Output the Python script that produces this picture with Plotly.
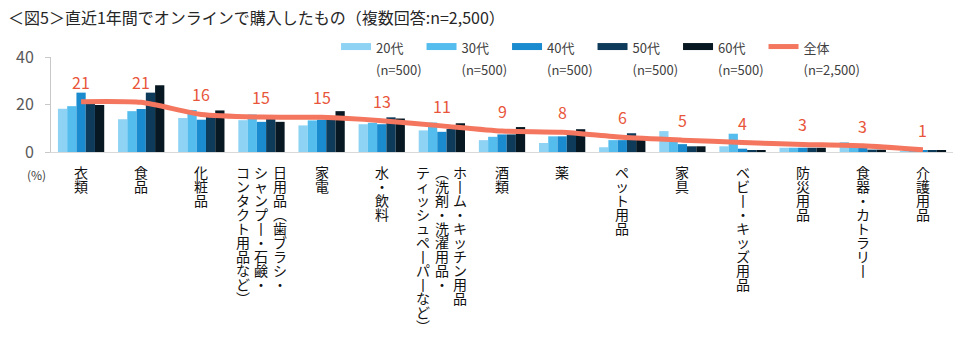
import plotly.graph_objects as go

# ---------------- data ----------------
categories = ["衣類", "食品", "化粧品", "日用品", "家電", "水・飲料", "ホーム・キッチン用品",
              "酒類", "薬", "ペット用品", "家具", "ベビー・キッズ用品", "防災用品",
              "食器・カトラリー", "介護用品"]

# tick label columns (vertical writing, first column is the rightmost)
label_columns = [
    ["衣類"], ["食品"], ["化粧品"],
    ["日用品（歯ブラシ・", "シャンプー・石鹸・", "コンタクト用品など）"],
    ["家電"], ["水・飲料"],
    ["ホーム・キッチン用品", "（洗剤・洗濯用品・", "ティッシュペーパーなど）"],
    ["酒類"], ["薬"], ["ペット用品"], ["家具"], ["ベビー・キッズ用品"],
    ["防災用品"], ["食器・カトラリー"], ["介護用品"],
]

series_names = ["20代", "30代", "40代", "50代", "60代"]
series_n = ["(n=500)", "(n=500)", "(n=500)", "(n=500)", "(n=500)"]
v20 = [18.2, 13.8, 14.3, 13.4, 11.2, 11.7, 9.1, 5.0, 3.8, 2.0, 8.8, 2.4, 1.8, 4.2, 0.4]
v30 = [19.3, 17.2, 17.7, 15.8, 13.3, 12.3, 12.4, 6.4, 6.6, 5.0, 5.7, 7.7, 1.8, 2.2, 0.4]
v40 = [25.0, 18.1, 13.6, 12.7, 13.6, 11.7, 8.5, 7.4, 6.6, 5.0, 3.3, 1.4, 1.8, 2.0, 0.5]
v50 = [20.8, 25.0, 15.0, 15.5, 14.8, 14.6, 9.7, 7.4, 8.2, 7.9, 2.4, 0.6, 1.8, 1.0, 0.6]
v60 = [19.8, 28.1, 17.5, 12.7, 17.2, 14.1, 12.1, 10.5, 9.6, 6.6, 2.4, 0.6, 1.8, 1.0, 0.7]
total_name = "全体"
total_n = "(n=2,500)"
total = [21.2, 20.9, 15.8, 14.7, 14.6, 13.2, 11.0, 8.8, 8.3, 6.2, 5.0, 4.0, 3.2, 2.6, 0.9]

y_ticks = [0, 20, 40]
title_text = "＜図5＞直近1年間でオンラインで購入したもの（複数回答:n=2,500）"
unit_text = "(%)"

# ---------------- styles ----------------
colors = ["#8fd3f4", "#55bdee", "#1b8bcf", "#0e3b5a", "#071822"]
line_color = "#f4765f"
label_color = "#e8553a"
FONT = "Noto Sans CJK JP, Noto Sans, sans-serif"

fig = go.Figure()
series = [v20, v30, v40, v50, v60]
for name, vals, c in zip(series_names, series, colors):
    fig.add_trace(go.Bar(x=categories, y=vals, name=name, marker=dict(color=c, line=dict(width=0)),
                         showlegend=False, hoverinfo="skip"))

# legend-only swatches
for name, n, c in zip(series_names, series_n, colors):
    fig.add_trace(go.Scatter(x=[None], y=[None], mode="lines", line=dict(color=c, width=7),
                             name=f'<span style="font-size:13px">{name}<br>{n}</span>'))

fig.add_trace(go.Scatter(x=categories, y=total, mode="lines",
                         line=dict(color=line_color, width=5, shape="spline", smoothing=0.6),
                         name=f'<span style="font-size:13px">{total_name}<br>{total_n}</span>',
                         legendwidth=75, hoverinfo="skip"))

annotations = []
for cat, v in zip(categories, total):
    annotations.append(dict(x=cat, y=v, xref="x", yref="y", text=f"{v:.0f}", showarrow=False,
                            yshift=20, font=dict(size=16, color=label_color, family=FONT)))

vert_map = {"ー": "丨", "（": "︵", "）": "︶"}
col_gap = 18.5
for cat, cols in zip(categories, label_columns):
    ncol = len(cols)
    for j, col in enumerate(cols):
        chars = [vert_map.get(ch, ch) for ch in col]
        txt = "<br>".join(f'<span style="font-size:14px">{ch}</span>' for ch in chars)
        annotations.append(dict(x=cat, y=0, xref="x", yref="paper", text=txt, showarrow=False,
                                xanchor="center", yanchor="top", yshift=-8,
                                xshift=((ncol - 1) / 2 - j) * col_gap,
                                font=dict(size=10.8, color="#111111", family=FONT)))

annotations.append(dict(x=-0.0166, y=0, xref="paper", yref="paper", text=unit_text, showarrow=False,
                        xanchor="center", yanchor="top", yshift=-12,
                        font=dict(size=12, color="#404040", family=FONT)))

fig.update_layout(
    width=960, height=340, autosize=False,
    margin=dict(l=51, r=7, t=57, b=188, pad=0, autoexpand=False),
    paper_bgcolor="white", plot_bgcolor="white",
    barmode="group", bargap=0.23, bargroupgap=0,
    font=dict(family=FONT, color="#404040"),
    title=dict(text=title_text, x=8 / 960, xref="container", xanchor="left",
               y=1 - 18 / 340, yref="container", yanchor="middle",
               font=dict(size=16, color="#262626", family=FONT)),
    legend=dict(orientation="h", x=0.316, xanchor="left", xref="paper",
                y=1 - 29 / 340, yref="container", yanchor="top",
                entrywidth=40.5, entrywidthmode="pixels", valign="top", itemwidth=30,
                font=dict(size=17, color="#404040", family=FONT), bgcolor="rgba(0,0,0,0)",
                traceorder="normal"),
    annotations=annotations,
    xaxis=dict(type="category", showline=True, linecolor="#d9d9d9", linewidth=1,
               showticklabels=False, ticks="", showgrid=False, zeroline=False,
               range=[-0.5, len(categories) - 0.5]),
    yaxis=dict(range=[0, 40], tickvals=y_ticks, showline=True, linecolor="#c8c8c8", linewidth=1,
               ticks="outside", ticklen=5, tickcolor="#c8c8c8", showgrid=False, zeroline=False,
               tickfont=dict(size=16, color="#595959", family=FONT), ticklabelstandoff=8),
    showlegend=True,
)

fig.write_html("out.html")
